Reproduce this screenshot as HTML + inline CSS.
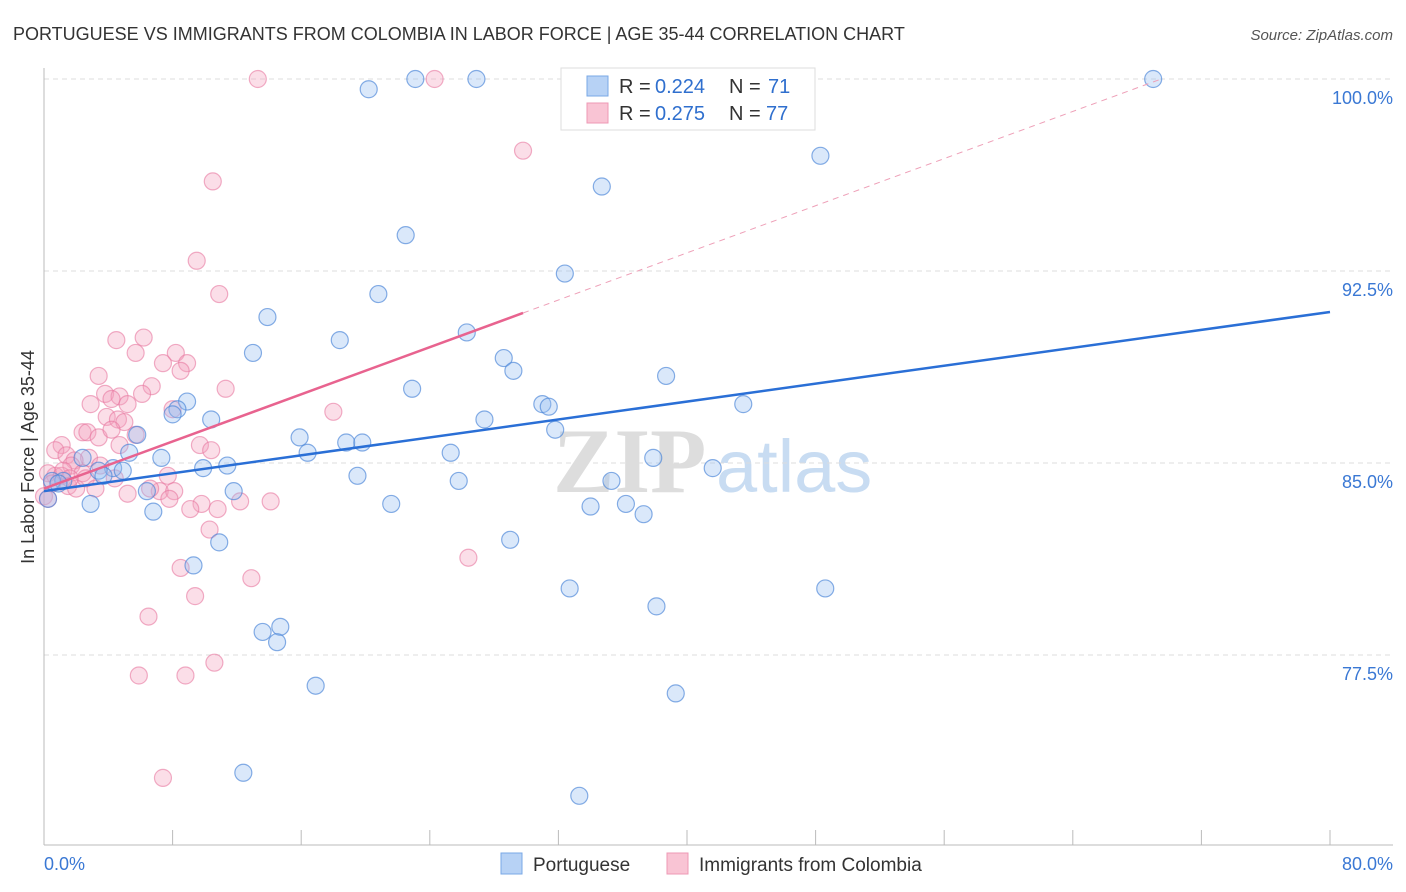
<!DOCTYPE html>
<html><head><meta charset="utf-8">
<style>
body{margin:0;background:#fff;font-family:"Liberation Sans",sans-serif;}
svg{display:block}
</style></head>
<body>
<svg id="chart" width="1406" height="892">
<text x="13" y="40" font-size="18" fill="#333">PORTUGUESE VS IMMIGRANTS FROM COLOMBIA IN LABOR FORCE | AGE 35-44 CORRELATION CHART</text>
<text x="1393" y="40" font-size="15" fill="#555" font-style="italic" text-anchor="end">Source: ZipAtlas.com</text>
<text transform="translate(34,457) rotate(-90)" font-size="18" fill="#333" text-anchor="middle">In Labor Force | Age 35-44</text>
<g>
<text x="553" y="492" font-size="92" fill="#ddd" font-family="Liberation Serif,serif" font-weight="bold">ZIP</text>
<text x="716" y="492" font-size="74" fill="#c8dcf2">atlas</text>
</g>
<g id="grid"></g>
<g id="axes"></g>
<g id="points"></g>
<g id="lines"></g>
<g>
<rect x="561" y="68" width="254" height="62" fill="#fff" stroke="#ddd"/>
<rect x="587" y="76" width="21" height="20" fill="#b7d2f5" stroke="#7aa8e6"/>
<rect x="587" y="103" width="21" height="20" fill="#f9c4d4" stroke="#ee98b5"/>
<text x="619" y="93" font-size="20" fill="#333">R = </text><text x="655" y="93" font-size="20" fill="#2f6fce">0.224</text>
<text x="729" y="93" font-size="20" fill="#333">N = </text><text x="768" y="93" font-size="20" fill="#2f6fce">71</text>
<text x="619" y="120" font-size="20" fill="#333">R = </text><text x="655" y="120" font-size="20" fill="#2f6fce">0.275</text>
<text x="729" y="120" font-size="20" fill="#333">N = </text><text x="766" y="120" font-size="20" fill="#2f6fce">77</text>
</g>
<g>
<rect x="501" y="853" width="21" height="21" fill="#b7d2f5" stroke="#7aa8e6"/>
<text x="533" y="871" font-size="19" fill="#333">Portuguese</text>
<rect x="667" y="853" width="21" height="21" fill="#f9c4d4" stroke="#ee98b5"/>
<text x="699" y="871" font-size="19" fill="#333">Immigrants from Colombia</text>
</g>
</svg>
<script>
const yTicks=[77.5,85.0,92.5,100.0];
const yTickLabels=["77.5%","85.0%","92.5%","100.0%"];
const xTickLabels=["0.0%","80.0%"];
const blueX=[69.0,23.1,26.9,20.2,48.3,34.7,22.5,32.4,20.8,13.9,26.3,18.4,13.0,28.6,29.2,38.7,22.9,43.5,31.0,31.4,8.9,8.3,8.0,10.4,27.4,31.8,5.8,15.9,18.8,19.8,16.4,25.3,7.3,5.3,37.9,2.4,41.6,11.4,9.9,4.3,4.9,3.4,3.7,19.5,35.3,25.8,1.2,0.5,0.9,11.8,6.4,2.9,21.6,34.0,36.2,6.8,37.3,29.0,10.9,9.3,32.7,48.6,38.1,13.6,14.7,14.5,16.9,39.3,12.4,33.3,0.25];
const blueY=[100,100,100,99.6,97.0,95.8,93.9,92.4,91.6,90.7,90.1,89.8,89.3,89.1,88.6,88.4,87.9,87.3,87.3,87.2,87.4,87.1,86.9,86.7,86.7,86.3,86.1,86.0,85.8,85.8,85.4,85.4,85.2,85.4,85.2,85.2,84.8,84.9,84.8,84.8,84.7,84.7,84.5,84.5,84.3,84.3,84.3,84.3,84.2,83.9,83.9,83.4,83.4,83.3,83.4,83.1,83.0,82.0,81.9,81.0,80.1,80.1,79.4,78.4,78.6,78.0,76.3,76.0,72.9,72.0,83.6];
const pinkX=[13.3,24.3,29.8,10.5,9.5,10.9,6.2,4.5,5.7,8.2,7.4,8.9,8.5,3.4,6.7,11.3,3.8,4.7,6.1,2.9,5.2,18.0,8.0,3.9,4.6,5.0,2.4,2.7,3.4,4.2,5.7,1.1,0.7,9.7,1.4,10.4,2.8,1.9,1.7,7.7,0.7,0.25,2.4,1.1,4.4,1.5,2.0,0.5,0.0,7.2,5.2,8.1,9.8,9.1,10.8,14.1,7.8,10.3,26.4,12.9,8.5,9.4,6.5,5.9,8.8,10.6,7.4,0.25,6.6,3.5,2.6,4.7,1.2,1.6,4.2,12.2,3.2];
const pinkY=[100,100,97.2,96.0,92.9,91.6,89.9,89.8,89.3,89.3,88.9,88.9,88.6,88.4,88.0,87.9,87.7,87.6,87.7,87.3,87.3,87.0,87.1,86.8,86.7,86.6,86.2,86.2,86.0,86.3,86.1,85.7,85.5,85.7,85.3,85.5,85.2,85.1,84.9,84.5,84.5,84.6,84.6,84.5,84.4,84.1,84.0,84.2,83.7,83.9,83.8,83.9,83.4,83.2,83.2,83.5,83.6,82.4,81.3,80.5,80.9,79.8,79.0,76.7,76.7,77.2,72.7,83.6,84.0,84.9,84.4,85.7,84.7,84.4,87.5,83.5,84.0];
const blueTrend=[83.9,90.9];
const pinkTrend=[84.0,90.86];
const pinkSolidEnd=29.8;

const NS="http://www.w3.org/2000/svg";
const X0=44,X1=1330,YTOP=79,PXPER=25.6;
const xs=v=>X0+(v/80)*(X1-X0);
const ys=v=>YTOP+(100-v)*PXPER;
function mk(tag,attrs,parent){const e=document.createElementNS(NS,tag);for(const k in attrs)e.setAttribute(k,attrs[k]);parent.appendChild(e);return e;}
const grid=document.getElementById('grid'),axes=document.getElementById('axes'),pts=document.getElementById('points'),lines=document.getElementById('lines');
yTicks.forEach((t,i)=>{
 const l=mk('line',{x1:X0,x2:1393,y1:ys(t),y2:ys(t),stroke:'#ddd','stroke-dasharray':'5,4'},grid);
 
 
 const tx=mk('text',{x:1393,y:ys(t)+25,'font-size':18,fill:'#3a78d4','text-anchor':'end'},axes);
 tx.textContent=yTickLabels[i];
 
 
});
const ya=mk('line',{x1:X0,x2:X0,y1:68,y2:845,stroke:'#bbb'},axes);


const xa=mk('line',{x1:X0,x2:1393,y1:845,y2:845,stroke:'#bbb'},axes);


for(let i=0;i<=10;i++){
 const tk=mk('line',{x1:xs(i*8),x2:xs(i*8),y1:830,y2:845,stroke:'#bbb'},axes);
 
 
}
const xl0=mk('text',{x:44,y:870,'font-size':18,fill:'#3a78d4'},axes);xl0.textContent=xTickLabels[0];


const xl1=mk('text',{x:1393,y:870,'font-size':18,fill:'#3a78d4','text-anchor':'end'},axes);xl1.textContent=xTickLabels[1];


pinkX.forEach((v,i)=>{
 const c=mk('circle',{cx:xs(v),cy:ys(pinkY[i]),r:8.5,fill:'rgba(244,160,190,0.35)',stroke:'rgba(232,120,160,0.6)','stroke-width':1.2},pts);
 
 
});
blueX.forEach((v,i)=>{
 const c=mk('circle',{cx:xs(v),cy:ys(blueY[i]),r:8.5,fill:'rgba(150,190,240,0.35)',stroke:'rgba(70,130,215,0.65)','stroke-width':1.2},pts);
 
 
});
const bl=mk('line',{x1:xs(0),y1:ys(blueTrend[0]),x2:xs(80),y2:ys(blueTrend[1]),stroke:'#2a6fd6','stroke-width':2.5},lines);


const slope=(pinkTrend[1]-pinkTrend[0])/pinkSolidEnd;
const pl=mk('line',{x1:xs(0),y1:ys(pinkTrend[0]),x2:xs(pinkSolidEnd),y2:ys(pinkTrend[1]),stroke:'#e8638f','stroke-width':2.5},lines);


const xEnd=(100-pinkTrend[0])/slope;
const pd=mk('line',{x1:xs(pinkSolidEnd),y1:ys(pinkTrend[1]),x2:xs(xEnd),y2:ys(100),stroke:'#eea0b8','stroke-width':1,'stroke-dasharray':'6,5'},lines);


</script>
</body></html>
